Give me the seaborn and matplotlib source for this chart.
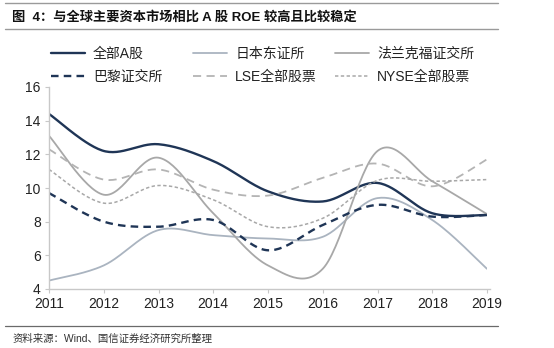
import numpy as np
import pandas as pd
import matplotlib
matplotlib.use("Agg")
import matplotlib.pyplot as plt
from matplotlib.lines import Line2D
import seaborn as sns

years = [2011, 2012, 2013, 2014, 2015, 2016, 2017, 2018, 2019]
a_share = [14.4, 12.2, 12.6, 11.6, 9.8, 9.2, 10.3, 8.5, 8.4]
japan = [4.5, 5.4, 7.5, 7.2, 7.0, 7.1, 9.4, 8.1, 5.2]
frankfurt = [13.1, 9.6, 11.8, 8.5, 5.4, 5.2, 12.2, 10.4, 8.45]
paris = [9.7, 8.0, 7.7, 8.1, 6.3, 7.8, 9.0, 8.3, 8.4]
lse = [12.3, 10.5, 11.1, 9.9, 9.55, 10.6, 11.45, 10.1, 11.7]
nyse = [11.1, 9.1, 10.15, 9.3, 7.7, 8.2, 10.45, 10.4, 10.5]

series_names = ["全部A股", "日本东证所", "法兰克福证交所", "巴黎证交所", "LSE全部股票", "NYSE全部股票"]
series_vals = [a_share, japan, frankfurt, paris, lse, nyse]
y_ticks = [4, 6, 8, 10, 12, 14, 16]

title_text = "图  4：与全球主要资本市场相比 A 股 ROE 较高且比较稳定"
source_text = "资料来源：Wind、国信证券经济研究所整理"

sns.set_theme(style="white")
plt.rcParams["font.family"] = ["Liberation Sans", "Noto Sans CJK SC", "DejaVu Sans"]


def smooth(xs, ys, n=30):
    """Excel-style smoothed line (Bezier through the points)."""
    xs = np.asarray(xs, float)
    ys = np.asarray(ys, float)
    P = np.column_stack([xs, ys])
    m = len(P)
    out = []
    for i in range(m - 1):
        p0 = P[i - 1] if i > 0 else P[i]
        p1 = P[i]
        p2 = P[i + 1]
        p3 = P[i + 2] if i + 2 < m else P[i + 1]
        c1 = p1 + (p2 - p0) / 6.0
        c2 = p2 - (p3 - p1) / 6.0
        t = np.linspace(0, 1, n, endpoint=(i == m - 2))[:, None]
        seg = ((1 - t) ** 3) * p1 + 3 * ((1 - t) ** 2) * t * c1 + 3 * (1 - t) * t ** 2 * c2 + t ** 3 * p2
        out.append(seg)
    out = np.vstack(out)
    return out[:, 0], out[:, 1]


navy = "#1f3556"
styles = {
    "全部A股": dict(color=navy, lw=1.7, dashes=None),
    "日本东证所": dict(color="#aab4c0", lw=1.3, dashes=None),
    "法兰克福证交所": dict(color="#a8a8a8", lw=1.3, dashes=None),
    "巴黎证交所": dict(color=navy, lw=1.7, dashes=(3.2, 2.2)),
    "LSE全部股票": dict(color="#b4b4b4", lw=1.3, dashes=(4.5, 3.0)),
    "NYSE全部股票": dict(color="#a8a8a8", lw=1.1, dashes=(2.2, 1.6)),
}

fig = plt.figure(figsize=(5.54, 3.48), dpi=100)
ax = fig.add_axes([49 / 554, 1 - 289 / 348, (487 - 49) / 554, (289 - 87) / 348])

handles = {}
for name, vals in zip(series_names, series_vals):
    sx, sy = smooth(years, vals)
    df = pd.DataFrame({"year": sx, "roe": sy})
    st = styles[name]
    sns.lineplot(data=df, x="year", y="roe", ax=ax, color=st["color"], lw=st["lw"],
                 sort=False, estimator=None, legend=False)
    line = ax.lines[-1]
    if st["dashes"] is not None:
        line.set_dashes(st["dashes"])
    handles[name] = Line2D([], [], color=st["color"], lw=st["lw"],
                           dashes=st["dashes"] if st["dashes"] else (None, None))

ax.set_xlim(2011, 2019)
ax.set_ylim(4, 16)
ax.set_xticks(years)
ax.set_xticklabels([str(y) for y in years])
ax.set_yticks(y_ticks)
ax.set_xlabel("")
ax.set_ylabel("")
for s in ["top", "right"]:
    ax.spines[s].set_visible(False)
for s in ["left", "bottom"]:
    ax.spines[s].set_color("#c8c8c8")
    ax.spines[s].set_linewidth(1.0)
ax.spines["bottom"].set_bounds(2011, 2019.05)
ax.tick_params(axis="both", direction="out", length=3, width=0.8, color="#c8c8c8",
               labelsize=10, labelcolor="#222222", pad=3)
ax.tick_params(axis="both", which="both", bottom=True, left=True)
ax.set_facecolor("white")
ax.grid(False)

# legends: three columns, two rows each
cols = [("全部A股", "巴黎证交所", 53), ("日本东证所", "LSE全部股票", 195), ("法兰克福证交所", "NYSE全部股票", 337)]
for top_name, bot_name, xpx in cols:
    lg = fig.legend([handles[top_name], handles[bot_name]], [top_name, bot_name],
                    loc="upper left", bbox_to_anchor=(xpx / 554 - 0.004, 1 - 47 / 348),
                    frameon=False, fontsize=10, handlelength=2.45, handletextpad=0.6,
                    labelspacing=0.62, borderpad=0, borderaxespad=0)
    for t in lg.get_texts():
        t.set_color("#222222")

# title and rules
fig.text(12 / 554, 1 - 17 / 348, title_text, fontsize=9.5, fontweight="bold",
         va="center", ha="left", color="#111111")
fig.add_artist(Line2D([5 / 554, 498 / 554], [1 - 3 / 348, 1 - 3 / 348], color="#9a9a9a", lw=1.0))
fig.add_artist(Line2D([5 / 554, 498 / 554], [1 - 29 / 348, 1 - 29 / 348], color="#9a9a9a", lw=1.0))
fig.add_artist(Line2D([5 / 554, 498 / 554], [1 - 326 / 348, 1 - 326 / 348], color="#6a6a6a", lw=0.9))
fig.text(13 / 554, 1 - 339 / 348, source_text, fontsize=7.5, va="center", ha="left", color="#333333")

fig.savefig("out.png", dpi=100, facecolor="white")
